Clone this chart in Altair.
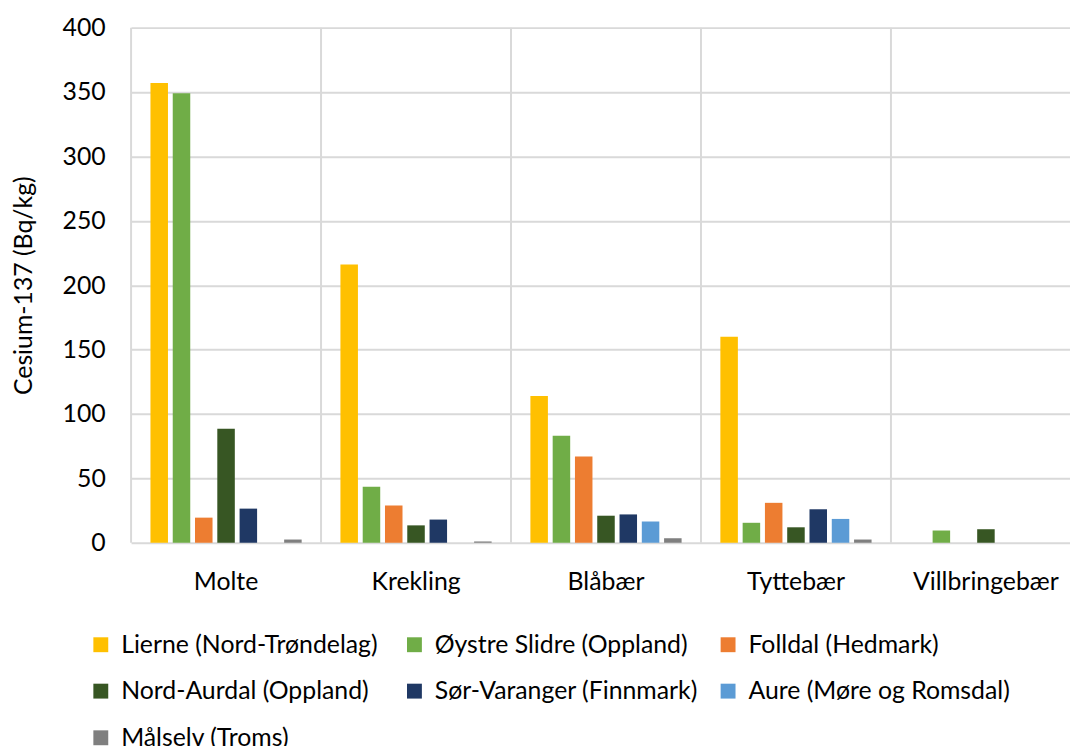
import altair as alt
import pandas as pd

categories = ["Molte", "Krekling", "Blåbær", "Tyttebær", "Villbringebær"]
regions = [
    "Lierne (Nord-Trøndelag)",
    "Øystre Slidre (Oppland)",
    "Folldal (Hedmark)",
    "Nord-Aurdal (Oppland)",
    "Sør-Varanger (Finnmark)",
    "Aure (Møre og Romsdal)",
    "Målselv (Troms)",
]
colors = ["#FFC000", "#70AD47", "#ED7D31", "#375623", "#1F3864", "#5B9BD5", "#7F7F7F"]

lierne = [357, 216, 114, 160, 0]
oystre = [349, 43.5, 83, 15.5, 9.5]
folldal = [19.5, 29, 67, 31, 0]
nord_aurdal = [88.5, 13.5, 21, 12, 10.5]
sor_varanger = [26.5, 18, 22, 26, 0]
aure = [0, 0, 16.5, 18.5, 0]
malselv = [2.5, 1, 3.5, 2.5, 0]

series = [lierne, oystre, folldal, nord_aurdal, sor_varanger, aure, malselv]
y_ticks = [0, 50, 100, 150, 200, 250, 300, 350, 400]

rows = []
for reg, vals in zip(regions, series):
    for cat, v in zip(categories, vals):
        rows.append({"kategori": cat, "region": reg, "verdi": v})
df = pd.DataFrame(rows)
grid_df = pd.DataFrame({"kategori": categories})

FONT = "Lato"
FS = 25
W, H = 957, 519

xscale = alt.Scale(domain=categories, paddingInner=0, paddingOuter=0)

rules = alt.Chart(grid_df).mark_rule(color="#D9D9D9", strokeWidth=2).encode(
    x=alt.X("kategori:N", bandPosition=0, scale=xscale, sort=categories, axis=None)
)

bars = alt.Chart(df).mark_bar().encode(
    x=alt.X(
        "kategori:N",
        sort=categories,
        scale=xscale,
        title=None,
        axis=alt.Axis(
            labelAngle=0,
            labelAlign="center",
            labelFontSize=FS,
            labelFont=FONT,
            labelColor="#000000",
            labelPadding=27,
            ticks=False,
            tickSize=0,
            domain=False,
            grid=False,
        ),
    ),
    xOffset=alt.XOffset(
        "region:N",
        sort=regions,
        scale=alt.Scale(domain=regions, paddingInner=0.214, paddingOuter=0.87),
    ),
    y=alt.Y(
        "verdi:Q",
        scale=alt.Scale(domain=[0, 400], nice=False),
        title="Cesium-137 (Bq/kg)",
        axis=alt.Axis(
            values=y_ticks,
            labelFontSize=FS,
            labelFont=FONT,
            labelColor="#000000",
            labelPadding=26,
            ticks=False,
            tickSize=0,
            domain=False,
            grid=True,
            gridColor="#D9D9D9",
            gridWidth=2,
            titleFontSize=FS,
            titleFont=FONT,
            titleFontWeight="normal",
            titleColor="#000000",
            titleX=-108,
            titleY=H / 2,
            titleBaseline="middle",
        ),
    ),
    color=alt.Color(
        "region:N",
        sort=regions,
        scale=alt.Scale(domain=regions, range=colors),
        legend=alt.Legend(
            title=None,
            orient="none",
            direction="horizontal",
            legendX=-43,
            legendY=609,
            columns=3,
            gridAlign="all",
            symbolType="square",
            symbolSize=225,
            symbolStrokeWidth=0,
            labelFontSize=FS,
            labelFont=FONT,
            labelColor="#000000",
            labelOffset=8,
            columnPadding=17,
            rowPadding=21,
            padding=0,
            labelLimit=400,
        ),
    ),
)

chart = (
    alt.layer(rules, bars)
    .resolve_axis(x="independent")
    .properties(
        width=W,
        height=H,
        autosize=alt.AutoSizeParams(type="none"),
        padding={"left": 124, "top": 17, "right": -11, "bottom": 202},
        background="#FFFFFF",
    )
    .configure_view(stroke=None)
)

chart.save("out.html", embed_options={"renderer": "svg", "actions": False})
